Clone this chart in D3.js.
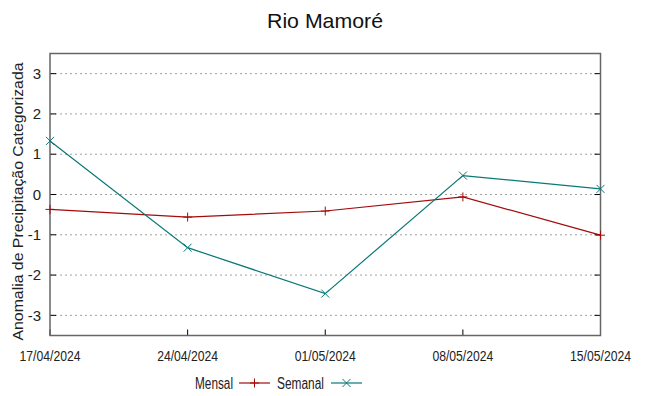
<!DOCTYPE html>
<html>
<head>
<meta charset="utf-8">
<title>Rio Mamoré</title>
<script src="https://cdn.jsdelivr.net/npm/d3@7"></script>
<style>
  body { margin: 0; background: #fff; }
  svg { font-family: 'Liberation Sans', Arial, sans-serif; }
</style>
</head>
<body>
<svg id="chart" width="649" height="396"></svg>
<script>
// data
var dates = ["17/04/2024", "24/04/2024", "01/05/2024", "08/05/2024", "15/05/2024"];
var mensal = [-0.37, -0.56, -0.41, -0.06, -1.01];
var semanal = [1.33, -1.32, -2.46, 0.47, 0.14];
var yTicks = [-3, -2, -1, 0, 1, 2, 3];

var svg = d3.select("#chart");
var margin = { top: 53.5, right: 48.5, bottom: 60.5, left: 50 },
    width = 649 - margin.left - margin.right,
    height = 396 - margin.top - margin.bottom;

var g = svg.append("g").attr("transform", `translate(${margin.left},${margin.top})`);

var parse = d3.timeParse("%d/%m/%Y");
var x = d3.scaleTime()
    .domain(d3.extent(dates, parse))
    .range([0, width]);
var y = d3.scaleLinear().domain([-3.5, 3.5]).range([height, 0]);

// horizontal grid
g.selectAll(".grid").data(yTicks).enter().append("line")
    .attr("x1", 0).attr("x2", width)
    .attr("y1", d => y(d)).attr("y2", d => y(d))
    .attr("stroke", "#a0a0a0").attr("stroke-width", 1)
    .attr("stroke-dasharray", "2,3");

// ticks left/right/bottom
g.selectAll(".tl").data(yTicks).enter().append("line")
    .attr("x1", 0).attr("x2", 6).attr("y1", d => y(d)).attr("y2", d => y(d))
    .attr("stroke", "#000");
g.selectAll(".tr").data(yTicks).enter().append("line")
    .attr("x1", width - 6).attr("x2", width).attr("y1", d => y(d)).attr("y2", d => y(d))
    .attr("stroke", "#000");
g.selectAll(".tb").data(dates).enter().append("line")
    .attr("x1", d => x(parse(d))).attr("x2", d => x(parse(d)))
    .attr("y1", height).attr("y2", height - 6)
    .attr("stroke", "#000");

// y tick labels
g.selectAll(".yl").data(yTicks).enter().append("text")
    .attr("x", -9).attr("y", d => y(d)).attr("dy", "0.35em")
    .attr("text-anchor", "end").style("font-size", "15px").attr("fill", "#222")
    .text(d => d);

// x tick labels
g.selectAll(".xl").data(dates).enter().append("text")
    .attr("x", d => x(parse(d))).attr("y", height + 25)
    .attr("text-anchor", "middle").style("font-size", "14px").attr("fill", "#222")
    .attr("textLength", 61).attr("lengthAdjust", "spacingAndGlyphs")
    .text(d => d);

// frame
g.append("rect").attr("width", width).attr("height", height)
    .attr("fill", "none").attr("stroke", "#666").attr("stroke-width", 1.5);

var line = d3.line().x(d => x(parse(d.date))).y(d => y(d.value));

var series = [
    { name: "Mensal", values: mensal, color: "#a30b0b", marker: "plus" },
    { name: "Semanal", values: semanal, color: "#0a7878", marker: "cross" }
];

function marker(sel, type, color) {
    var p = type === "plus" ? "M-4.5,0H4.5M0,-4.5V4.5" : "M-4,-4L4,4M-4,4L4,-4";
    sel.append("path").attr("d", p).attr("stroke", color).attr("stroke-width", 1).attr("fill", "none");
}

series.forEach(function (s) {
    var pts = dates.map((d, i) => ({ date: d, value: s.values[i] }));
    g.append("path").datum(pts)
        .attr("fill", "none").attr("stroke", s.color).attr("stroke-width", 1.2)
        .attr("d", line);
    pts.forEach(function (p) {
        var m = g.append("g").attr("transform", `translate(${x(parse(p.date))},${y(p.value)})`);
        marker(m, s.marker, s.color);
    });
});

// title
svg.append("text").attr("x", 325).attr("y", 28).attr("text-anchor", "middle")
    .style("font-size", "21px").attr("fill", "#111")
    .attr("textLength", 116).attr("lengthAdjust", "spacingAndGlyphs")
    .text("Rio Mamoré");

// y label
svg.append("text")
    .attr("transform", `translate(23,${margin.top + height / 2 + 7}) rotate(-90)`)
    .attr("text-anchor", "middle").style("font-size", "15px").attr("fill", "#222")
    .attr("textLength", 278).attr("lengthAdjust", "spacingAndGlyphs")
    .text("Anomalia de Precipitação Categorizada");

// legend
var leg = svg.append("g").attr("transform", "translate(0,383)");
leg.append("text").attr("x", 233).attr("y", 0).attr("dy", "0.35em")
    .attr("text-anchor", "end").style("font-size", "16px").attr("fill", "#222")
    .attr("textLength", 38).attr("lengthAdjust", "spacingAndGlyphs").text("Mensal");
leg.append("line").attr("x1", 239).attr("x2", 270).attr("y1", 0).attr("y2", 0)
    .attr("stroke", series[0].color).attr("stroke-width", 1.2);
marker(leg.append("g").attr("transform", "translate(254.5,0)"), "plus", series[0].color);
leg.append("text").attr("x", 324).attr("y", 0).attr("dy", "0.35em")
    .attr("text-anchor", "end").style("font-size", "16px").attr("fill", "#222")
    .attr("textLength", 47).attr("lengthAdjust", "spacingAndGlyphs").text("Semanal");
leg.append("line").attr("x1", 331).attr("x2", 362).attr("y1", 0).attr("y2", 0)
    .attr("stroke", series[1].color).attr("stroke-width", 1.2);
marker(leg.append("g").attr("transform", "translate(346.5,0)"), "cross", series[1].color);
</script>
</body>
</html>
